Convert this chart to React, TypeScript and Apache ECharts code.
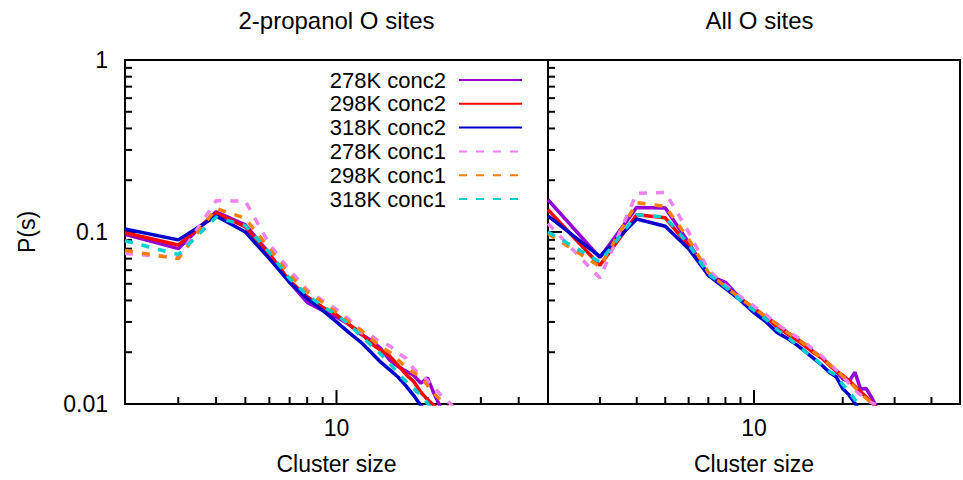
import React, { useEffect, useRef } from 'react';
import * as echarts from 'echarts';

// ---- data ----
const clusterSizes = [2, 3, 4, 5, 6, 7, 8, 9, 10, 11, 12, 13, 14, 15, 16, 17, 18, 19, 20, 21, 22, 23, 24, 25, 26, 27];

const seriesNames = ['278K conc2', '298K conc2', '318K conc2', '278K conc1', '298K conc1', '318K conc1'];
const seriesColors = ['#9400D3', '#FF0000', '#0000CD', '#EE82EE', '#FF8000', '#00CED1'];
const seriesDashed = [false, false, false, true, true, true];

const panelTitles = ['2-propanol O sites', 'All O sites'];
const xAxisTitle = 'Cluster size';
const yAxisTitle = 'P(s)';

// 2-propanol O sites
const propanol278conc2 = [0.097, 0.080, 0.131, 0.110, 0.075, 0.051, 0.039, 0.035, 0.032, 0.029, 0.0255, 0.0235, 0.021, 0.018, 0.0165, 0.0155, 0.0147, 0.0132, 0.0142, 0.0115, 0.0097, 0.0085];
const propanol298conc2 = [0.099, 0.084, 0.129, 0.107, 0.074, 0.052, 0.042, 0.0365, 0.033, 0.029, 0.026, 0.0225, 0.0205, 0.019, 0.0167, 0.0148, 0.0135, 0.0117, 0.0106, 0.0098, 0.009];
const propanol318conc2 = [0.104, 0.090, 0.124, 0.100, 0.070, 0.051, 0.041, 0.035, 0.030, 0.026, 0.023, 0.020, 0.0175, 0.0158, 0.0143, 0.0127, 0.0112, 0.0098, 0.0085];
const propanol278conc1 = [0.075, 0.071, 0.152, 0.151, 0.085, 0.060, 0.046, 0.040, 0.0355, 0.031, 0.026, 0.025, 0.0228, 0.0218, 0.0198, 0.0184, 0.016, 0.0148, 0.0137, 0.0125, 0.0114, 0.0106, 0.0099, 0.009];
const propanol298conc1 = [0.078, 0.070, 0.137, 0.120, 0.080, 0.056, 0.045, 0.039, 0.034, 0.030, 0.027, 0.024, 0.0215, 0.020, 0.018, 0.0163, 0.0152, 0.0145, 0.0128, 0.0115, 0.0106, 0.0099, 0.009];
const propanol318conc1 = [0.089, 0.074, 0.122, 0.109, 0.076, 0.0535, 0.043, 0.037, 0.033, 0.029, 0.025, 0.022, 0.0195, 0.0172, 0.015, 0.0135, 0.0123, 0.0112, 0.0101, 0.009];

// All O sites
const allO278conc2 = [0.154, 0.071, 0.139, 0.138, 0.087, 0.056, 0.051, 0.041, 0.036, 0.032, 0.029, 0.026, 0.024, 0.022, 0.020, 0.0185, 0.017, 0.0155, 0.014, 0.0135, 0.0153, 0.0122, 0.0123, 0.011, 0.0097];
const allO298conc2 = [0.135, 0.064, 0.126, 0.121, 0.083, 0.057, 0.048, 0.041, 0.036, 0.032, 0.028, 0.0255, 0.0235, 0.0215, 0.0198, 0.0185, 0.0168, 0.0155, 0.0147, 0.0137, 0.0127, 0.0118, 0.011, 0.0103, 0.0095];
const allO318conc2 = [0.124, 0.072, 0.119, 0.108, 0.080, 0.056, 0.047, 0.040, 0.034, 0.030, 0.026, 0.024, 0.022, 0.020, 0.0183, 0.0168, 0.0153, 0.0144, 0.0123, 0.0113, 0.0101, 0.009];
const allO278conc1 = [0.112, 0.054, 0.168, 0.170, 0.100, 0.060, 0.049, 0.042, 0.037, 0.033, 0.029, 0.0265, 0.0245, 0.0225, 0.0205, 0.019, 0.0172, 0.0158, 0.0145, 0.0132, 0.012, 0.0113, 0.0106, 0.0102, 0.0099, 0.0093];
const allO298conc1 = [0.098, 0.063, 0.148, 0.141, 0.091, 0.058, 0.048, 0.041, 0.036, 0.032, 0.029, 0.026, 0.024, 0.022, 0.020, 0.0185, 0.017, 0.0158, 0.0145, 0.0135, 0.0125, 0.0115, 0.0108, 0.0102, 0.0095];
const allO318conc1 = [0.100, 0.067, 0.126, 0.122, 0.085, 0.057, 0.048, 0.040, 0.035, 0.031, 0.027, 0.0245, 0.022, 0.020, 0.0185, 0.0168, 0.0155, 0.0147, 0.013, 0.0118, 0.0106, 0.0097];

const xMin = 2;
const xMax = 50;
const yMin = 0.01;
const yMax = 1;
const xMinorTicks = [3, 4, 5, 6, 7, 8, 9, 20, 30, 40];
const xMajorTicks = [10];
const yMinorTicks = [0.02, 0.03, 0.04, 0.05, 0.06, 0.07, 0.08, 0.09, 0.2, 0.3, 0.4, 0.5, 0.6, 0.7, 0.8, 0.9];
const yMajorTicks = [0.1];

const FONT = '"Liberation Sans", Arial, Helvetica, sans-serif';

function isPow10(v: number) {
  const l = Math.log10(v);
  return Math.abs(l - Math.round(l)) < 1e-6;
}
function fmt(v: number) {
  if (!isPow10(v)) return '';
  return String(Number(v.toPrecision(6)));
}

export default function App() {
  const ref = useRef<HTMLDivElement>(null);
  useEffect(() => {
    if (!ref.current) return;
    const chart = echarts.init(ref.current, undefined, { renderer: 'svg' });

    const panels = [
      [propanol278conc2, propanol298conc2, propanol318conc2, propanol278conc1, propanol298conc1, propanol318conc1],
      [allO278conc2, allO298conc2, allO318conc2, allO278conc1, allO298conc1, allO318conc1],
    ];

    const tickSeries: any[] = [];
    const lineSeries: any[] = [];
    panels.forEach((sets, g) => {
      const xTickData = [
        ...xMinorTicks.map((v) => [v, yMin, 0]),
        ...xMajorTicks.map((v) => [v, yMin, 1]),
      ];
      const yTickData = [
        ...yMinorTicks.map((v) => [xMin, v, 0]),
        ...yMajorTicks.map((v) => [xMin, v, 1]),
      ];
      tickSeries.push({
        type: 'custom',
        xAxisIndex: g,
        yAxisIndex: g,
        silent: true,
        z: 1,
        data: xTickData,
        renderItem: (params: any, api: any) => {
          const p = api.coord([api.value(0), api.value(1)]);
          const len = api.value(2) ? 14 : 7;
          return {
            type: 'line',
            shape: { x1: p[0], y1: p[1], x2: p[0], y2: p[1] - len },
            style: { stroke: '#000', lineWidth: 2 },
          };
        },
      });
      tickSeries.push({
        type: 'custom',
        xAxisIndex: g,
        yAxisIndex: g,
        silent: true,
        z: 1,
        data: yTickData,
        renderItem: (params: any, api: any) => {
          const p = api.coord([api.value(0), api.value(1)]);
          const len = api.value(2) ? 14 : 7;
          return {
            type: 'line',
            shape: { x1: p[0], y1: p[1], x2: p[0] + len, y2: p[1] },
            style: { stroke: '#000', lineWidth: 2 },
          };
        },
      });
      sets.forEach((vals, i) => {
        lineSeries.push({
          type: 'line',
          name: seriesNames[i],
          xAxisIndex: g,
          yAxisIndex: g,
          data: vals.map((v, k) => [clusterSizes[k], v]),
          symbol: 'none',
          showSymbol: false,
          clip: true,
          z: 3,
          itemStyle: { color: seriesColors[i] },
          lineStyle: {
            color: seriesColors[i],
            width: 3.5,
            type: seriesDashed[i] ? [8, 9] : 'solid',
          },
        });
      });
    });

    const gridW = 423;
    const gridH = 349;
    const gridTop = 60;
    const gridLefts = [125, 548];

    const option: any = {
      animation: false,
      backgroundColor: '#fff',
      title: panelTitles.map((t, g) => ({
        text: t,
        left: gridLefts[g] + gridW / 2,
        textAlign: 'center',
        top: 8,
        padding: 0,
        textStyle: { fontSize: 24, fontWeight: 'normal', color: '#000', fontFamily: FONT },
      })),
      legend: {
        data: seriesNames,
        orient: 'vertical',
        right: 440,
        top: 69,
        align: 'right',
        itemWidth: 63,
        itemHeight: 10,
        itemGap: 1.8,
        padding: 0,
        selectedMode: false,
        itemStyle: { opacity: 0 },
        textStyle: {
          fontSize: 22,
          color: '#000',
          fontFamily: FONT,
          lineHeight: 20,
          padding: [0, 8, 0, 0],
        },
      },
      grid: gridLefts.map((l) => ({
        left: l,
        top: gridTop,
        width: gridW,
        height: gridH,
        show: true,
        borderColor: '#000',
        borderWidth: 2,
        backgroundColor: 'transparent',
        containLabel: false,
      })),
      xAxis: gridLefts.map((_, g) => ({
        type: 'log',
        logBase: 10,
        gridIndex: g,
        min: xMin,
        max: xMax,
        name: xAxisTitle,
        nameLocation: 'middle',
        nameGap: 48,
        nameTextStyle: { fontSize: 23, color: '#000', fontFamily: FONT },
        axisLine: { show: false },
        axisTick: { show: false },
        splitLine: { show: false },
        minorTick: { show: false },
        axisLabel: {
          formatter: (v: number) => fmt(v),
          fontSize: 23,
          color: '#000',
          fontFamily: FONT,
          margin: 12,
          showMinLabel: true,
          showMaxLabel: true,
        },
      })),
      yAxis: gridLefts.map((_, g) => ({
        type: 'log',
        logBase: 10,
        gridIndex: g,
        min: yMin,
        max: yMax,
        name: g === 0 ? yAxisTitle : '',
        nameLocation: 'middle',
        nameRotate: 90,
        nameGap: 87,
        nameTextStyle: { fontSize: 23, color: '#000', fontFamily: FONT },
        axisLine: { show: false },
        axisTick: { show: false },
        splitLine: { show: false },
        minorTick: { show: false },
        axisLabel: {
          show: g === 0,
          formatter: (v: number) => fmt(v),
          fontSize: 23,
          color: '#000',
          fontFamily: FONT,
          margin: 17,
          showMinLabel: true,
          showMaxLabel: true,
        },
      })),
      series: [...tickSeries, ...lineSeries],
    };

    chart.setOption(option);
    return () => {
      chart.dispose();
    };
  }, []);

  return (
    <div
      ref={ref}
      style={{ position: 'absolute', left: 0, top: 0, width: 963, height: 480, background: '#fff' }}
    />
  );
}
